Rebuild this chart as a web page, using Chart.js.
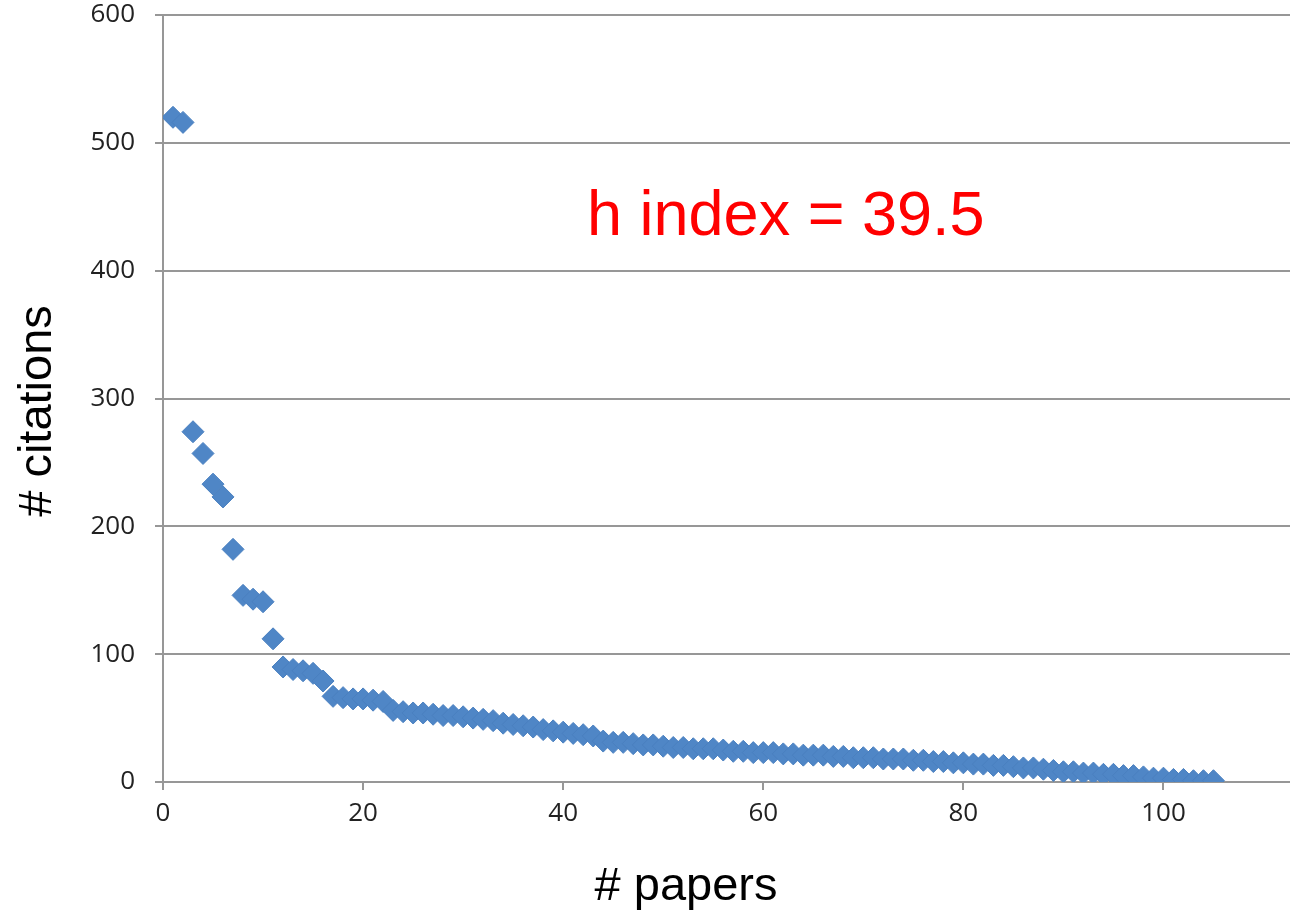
<!DOCTYPE html>
<html>
<head>
<meta charset="utf-8">
<script src="https://cdn.jsdelivr.net/npm/chart.js@4"></script>
<style>
    html, body { margin: 0; padding: 0; background: #ffffff; }
</style>
</head>
<body>
<canvas id="hChart" width="1290" height="920"></canvas>
<script>
// Paper rank (x) and citation count (y)
const papers = [
    1, 2, 3, 4, 5, 6, 7, 8, 9, 10,
    11, 12, 13, 14, 15, 16, 17, 18, 19, 20,
    21, 22, 23, 24, 25, 26, 27, 28, 29, 30,
    31, 32, 33, 34, 35, 36, 37, 38, 39, 40,
    41, 42, 43, 44, 45, 46, 47, 48, 49, 50,
    51, 52, 53, 54, 55, 56, 57, 58, 59, 60,
    61, 62, 63, 64, 65, 66, 67, 68, 69, 70,
    71, 72, 73, 74, 75, 76, 77, 78, 79, 80,
    81, 82, 83, 84, 85, 86, 87, 88, 89, 90,
    91, 92, 93, 94, 95, 96, 97, 98, 99, 100,
    101, 102, 103, 104, 105
];
const citations = [
    520, 516, 274, 257, 233, 223, 182, 146, 143, 141,
    112, 90, 88, 87, 85, 79, 67, 66, 65, 65,
    64, 63, 56, 55, 54, 54, 53, 52, 52, 51,
    50, 49, 48, 46, 45, 44, 43, 41, 40, 39,
    38, 37, 36, 32, 31, 31, 30, 29, 29, 28,
    27, 27, 26, 26, 26, 25, 24, 24, 23, 23,
    23, 22, 22, 21, 21, 21, 20, 20, 19, 19,
    19, 18, 18, 18, 17, 17, 16, 16, 15, 15,
    14, 14, 13, 13, 12, 11, 11, 10, 9, 8,
    8, 7, 7, 6, 6, 5, 5, 4, 3, 3,
    2, 2, 1, 1, 1
];
const xTicks = [0, 20, 40, 60, 80, 100];
const yTicks = [0, 100, 200, 300, 400, 500, 600];

const axisGray = '#979797';
const tickFont = { family: 'Open Sans', size: 26 };

// titles and the h index note are drawn by hand so they sit where the original has them
const textLayer = {
    id: 'textLayer',
    afterDraw(chart) {
        const ctx = chart.ctx;
        ctx.save();
        ctx.fillStyle = '#000000';
        ctx.font = '47px "Liberation Sans", Arial, sans-serif';
        ctx.textAlign = 'center';
        ctx.textBaseline = 'alphabetic';
        ctx.fillText('# papers', 686, 900);

        ctx.translate(51, 411);
        ctx.rotate(-Math.PI / 2);
        ctx.fillText('# citations', 0, 0);
        ctx.restore();

        ctx.save();
        ctx.fillStyle = '#ff0000';
        ctx.font = '63px "Liberation Sans", Arial, sans-serif';
        ctx.textAlign = 'left';
        ctx.textBaseline = 'alphabetic';
        ctx.fillText('h index = 39.5', 587, 235);
        ctx.restore();
    }
};

const ctx = document.getElementById('hChart').getContext('2d');
const hChart = new Chart(ctx, {
    type: 'scatter',
    data: {
        datasets: [{
            label: 'citations',
            data: papers.map((p, i) => ({ x: p, y: citations[i] })),
            pointStyle: 'rectRot',
            pointRadius: 11,
            backgroundColor: '#4f86c6',
            borderColor: '#4a80c0',
            borderWidth: 1
        }]
    },
    options: {
        responsive: false,
        animation: false,
        layout: {
            autoPadding: false,
            padding: { top: 15, right: 0, bottom: 0, left: 0 }
        },
        plugins: {
            legend: { display: false },
            tooltip: { enabled: false }
        },
        scales: {
            x: {
                type: 'linear',
                min: 0,
                max: 112.65,
                afterBuildTicks: scale => { scale.ticks = xTicks.map(v => ({ value: v })); },
                afterFit: scale => {
                    scale.height = 138;
                    scale.paddingLeft = 0;
                    scale.paddingRight = 0;
                },
                grid: {
                    drawOnChartArea: false,
                    drawTicks: true,
                    tickLength: 8,
                    color: axisGray,
                    lineWidth: 2
                },
                border: { display: true, color: axisGray, width: 2 },
                ticks: {
                    font: tickFont,
                    color: '#222222',
                    padding: 8,
                    maxRotation: 0,
                    includeBounds: false
                }
            },
            y: {
                min: 0,
                max: 600,
                afterBuildTicks: scale => { scale.ticks = yTicks.map(v => ({ value: v })); },
                afterFit: scale => {
                    scale.width = 163;
                    scale.paddingTop = 0;
                    scale.paddingBottom = 0;
                },
                grid: {
                    tickLength: 8,
                    color: axisGray,
                    lineWidth: 2
                },
                border: { display: true, color: axisGray, width: 2 },
                ticks: {
                    font: tickFont,
                    color: '#222222',
                    padding: 20
                }
            }
        }
    },
    plugins: [textLayer]
});
</script>
</body>
</html>
